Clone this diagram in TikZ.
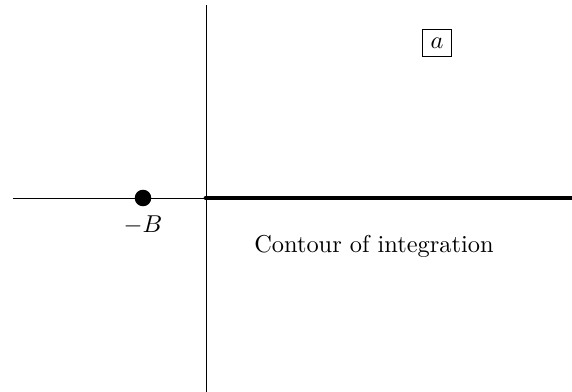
\documentclass[tikz,border=0pt]{standalone}
\usepackage{tikz}
\usetikzlibrary{positioning}
\usepackage{amsmath}

\begin{document}
\begin{tikzpicture}[x=0.41pt, y=-0.41pt, node distance={5pt},
        pole/.style = {circle, fill, inner sep=0pt, minimum size=6.8pt},
        tag/.style = {draw, inner sep=0pt, minimum width=11.9pt, minimum height=11.1pt}]
    \useasboundingbox (0,0) rectangle (572,392);
    \coordinate (O) at (206,198);
    \coordinate (W) at (13,198);
    \coordinate (E) at (571,198);
    \coordinate (N) at (206,5);
    \coordinate (S) at (206,392);

    \node[pole] (B) at (143,198) {};
    \node (Blab) at (143,225) {$-B$};
    \node[tag] (A) at (437,43) {$a$};
    \node (C) at (374,246) {Contour of integration};

    \draw (N) -- (S);
    \draw (W) -- (O);
    \draw[line width=2pt, line cap=round] (O) -- (E);
\end{tikzpicture}
\end{document}
